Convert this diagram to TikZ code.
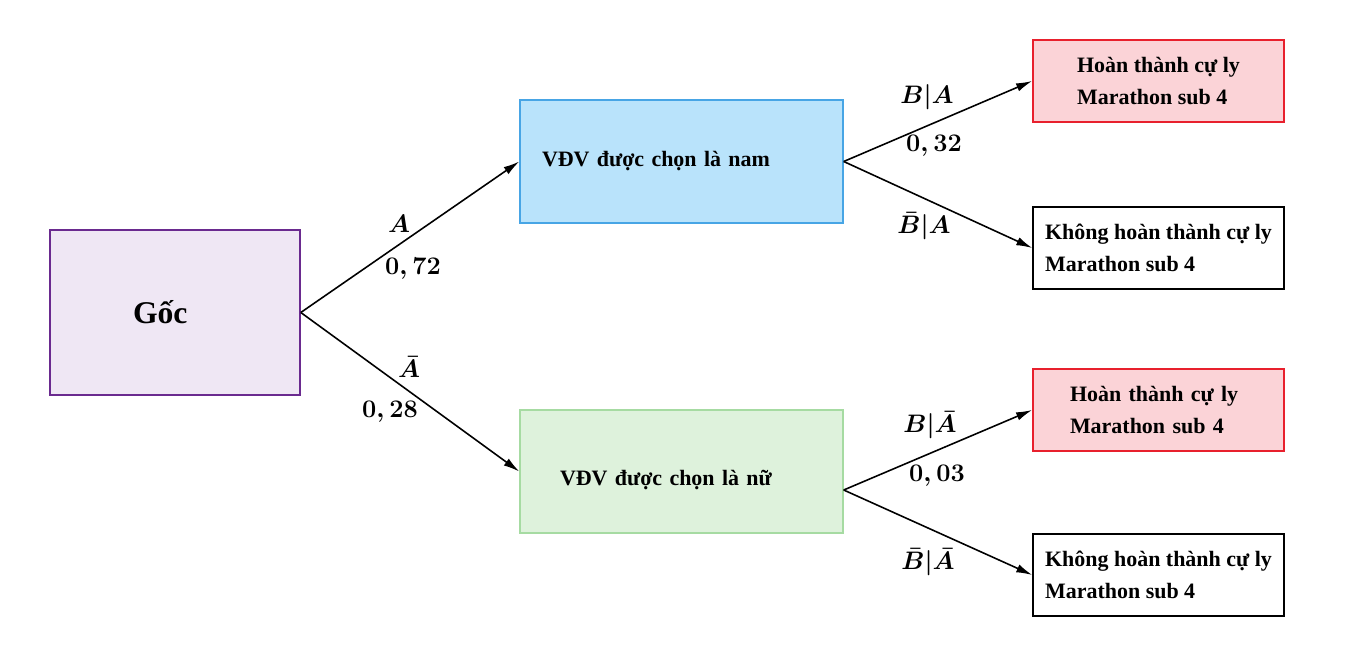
\documentclass[tikz,border=0pt]{standalone}
\usepackage[no-math]{fontspec}
\setmainfont{Liberation Serif}
\usepackage{amsmath,amssymb}
\usetikzlibrary{arrows.meta}

\definecolor{tim}{HTML}{6A2A8F}
\definecolor{timnhat}{HTML}{EFE7F4}
\definecolor{xanh}{HTML}{47A5E5}
\definecolor{xanhnhat}{HTML}{B9E3FB}
\definecolor{luc}{HTML}{A6DBA2}
\definecolor{lucnhat}{HTML}{DEF2DC}
\definecolor{do}{HTML}{E8202D}
\definecolor{donhat}{HTML}{FBD3D7}

\begin{document}
\begin{tikzpicture}[
    hop/.style={draw, rectangle, line width=0.8pt, align=left,
        font=\fontsize{12.5}{18}\selectfont\bfseries},
    ketqua/.style={hop, minimum width=5.02cm, minimum height=1.64cm},
    mui/.style={-{Latex[length=3.2mm,width=1.7mm]}, line width=0.9pt},
    nhan/.style={font=\fontsize{13.7}{16}\selectfont\boldmath}
]
    \useasboundingbox (0,0) rectangle (27.04,-12.9);

    % Nút gốc
    \node[draw=tim, fill=timnhat, line width=0.9pt, inner xsep=1.66cm,
        text width=1.68cm, minimum height=3.3cm, align=left,
        font=\fontsize{18}{20}\selectfont\bfseries]
        (goc) at (3.5,-6.25) {Gốc};

    % Tầng 1
    \node[hop, draw=xanh, fill=xanhnhat, inner xsep=0.44cm, text width=5.58cm,
        minimum height=2.46cm] (nam) at (13.63,-3.23) {VĐV được chọn là nam};
    \node[hop, draw=luc, fill=lucnhat, inner xsep=0.8cm, text width=4.86cm,
        minimum height=2.46cm] (nu) at (13.63,-9.43)
        {\raisebox{-0.17cm}[\height][\depth]{VĐV được chọn là nữ}};

    % Tầng 2
    \node[ketqua, draw=do, fill=donhat, line width=1pt] (hoanthanh1) at (23.17,-1.62)
        {Hoàn thành cự ly\\Marathon sub 4};
    \node[ketqua] (khong1) at (23.17,-4.96)
        {Không hoàn thành cự ly\\Marathon sub 4};
    \node[ketqua, draw=do, fill=donhat, line width=1pt, inner xsep=0.74cm,
        text width=3.54cm] (hoanthanh2) at (23.17,-8.2)
        {Hoàn thành cự ly\\Marathon sub 4};
    \node[ketqua] (khong2) at (23.17,-11.5)
        {Không hoàn thành cự ly\\Marathon sub 4};

    % Các nhánh
    \coordinate (nuRa) at ([yshift=-0.37cm]nu.east);
    \draw[mui] (goc.east) -- (nam.west);
    \draw[mui] (goc.east) -- (nu.west);
    \draw[mui] (nam.east) -- (hoanthanh1.west);
    \draw[mui] (nam.east) -- (khong1.west);
    \draw[mui] (nuRa) -- (hoanthanh2.west);
    \draw[mui] (nuRa) -- (khong2.west);

    % Nhãn xác suất
    \node[nhan] (nhanA) at (7.98,-4.48) {$A$};
    \node[nhan] (xsA) at (8.26,-5.38) {$0,72$};
    \node[nhan] (nhanAb) at (8.18,-7.34) {$\bar{A}$};
    \node[nhan] (xsAb) at (7.8,-8.24) {$0,28$};
    \node[nhan] (nhanBA) at (18.54,-1.94) {$B|A$};
    \node[nhan] (xsBA) at (18.68,-2.92) {$0,32$};
    \node[nhan] (nhanBbA) at (18.48,-4.52) {$\bar{B}|A$};
    \node[nhan] (nhanBAb) at (18.6,-8.5) {$B|\bar{A}$};
    \node[nhan] (xsBAb) at (18.74,-9.52) {$0,03$};
    \node[nhan] (nhanBbAb) at (18.56,-11.24) {$\bar{B}|\bar{A}$};
\end{tikzpicture}
\end{document}
